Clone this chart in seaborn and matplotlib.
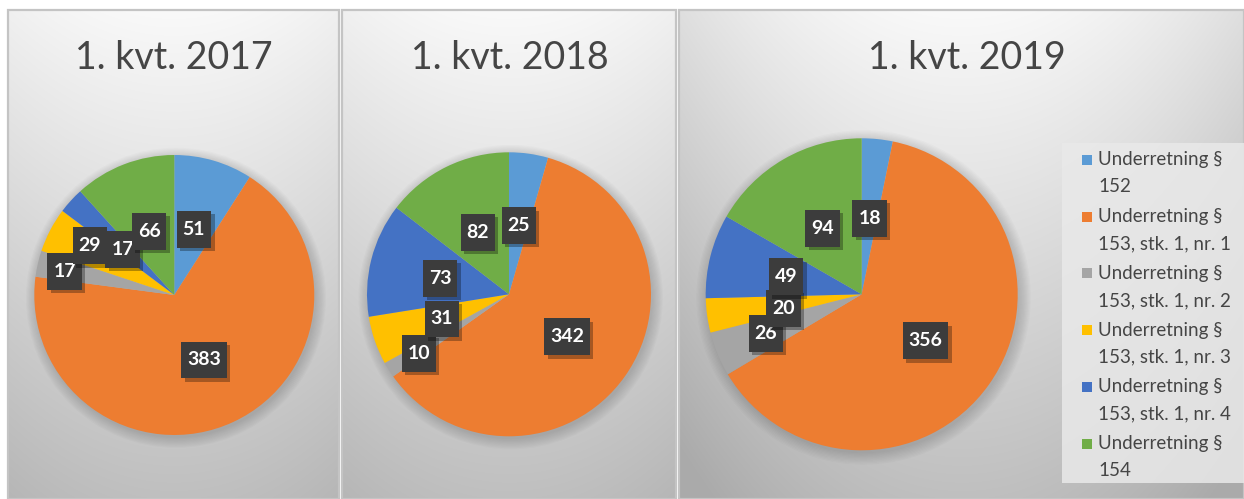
import numpy as np
import matplotlib
matplotlib.use("Agg")
import matplotlib.pyplot as plt
import matplotlib.patheffects as pe
from matplotlib.patches import Rectangle, Circle
import seaborn as sns

# ---------------- data ----------------
categories = [
    "Underretning §\n152",
    "Underretning §\n153, stk. 1, nr. 1",
    "Underretning §\n153, stk. 1, nr. 2",
    "Underretning §\n153, stk. 1, nr. 3",
    "Underretning §\n153, stk. 1, nr. 4",
    "Underretning §\n154",
]
titles = ["1. kvt. 2017", "1. kvt. 2018", "1. kvt. 2019"]
values_2017 = [51, 383, 17, 29, 17, 66]
values_2018 = [25, 342, 10, 31, 73, 82]
values_2019 = [18, 356, 26, 20, 49, 94]
series = [values_2017, values_2018, values_2019]
colors = ["#5B9BD5", "#ED7D31", "#A5A5A5", "#FFC000", "#4472C4", "#70AD47"]

# ---------------- style ----------------
sns.set_theme(style="white")
plt.rcParams["font.family"] = ["Lato", "DejaVu Sans"]
TEXT = "#454545"

W, H, DPI = 1244, 499, 100
fig = plt.figure(figsize=(W / DPI, H / DPI), dpi=DPI)
fig.patch.set_facecolor("white")


def frect(x0, y0, x1, y1):
    return [x0 / W, 1 - y1 / H, (x1 - x0) / W, (y1 - y0) / H]


# layout (pixels, y down); label nudges for crowded labels only
layout = [
    dict(x0=8, x1=339, cx=174.3, cy=295.0, r=140, tx=174.0,
         nudge={2: (-41.5, -9.3), 3: (-22.7, -18.2)}),
    dict(x0=342, x1=676, cx=509.0, cy=294.3, r=142, tx=510.0,
         nudge={2: (-30.0, 19.6)}),
    dict(x0=679, x1=1244, cx=861.7, cy=294.3, r=156, tx=967.0,
         nudge={2: (-24.0, 7.5), 3: (-1.0, 1.8)}),
]

for lay, vals, title in zip(layout, series, titles):
    # ---- panel background with soft gradient ----
    x0, x1 = lay["x0"], lay["x1"]
    y0, y1 = 10, 499
    bg = fig.add_axes(frect(x0, y0, x1, y1))
    nx, ny = int(x1 - x0), int(y1 - y0)
    xx, yy = np.meshgrid(np.arange(nx), np.arange(ny))
    pcx = (x1 - x0) / 2
    v = yy / ny
    u = (xx - pcx) / 300.0
    shade = 249 - 58 * v - 30 * u ** 2
    shade = np.clip(shade, 170, 252) / 255.0
    img = np.dstack([shade, shade, shade])
    bg.imshow(img, aspect="auto", extent=[0, 1, 0, 1], interpolation="bilinear")
    bg.set_xlim(0, 1)
    bg.set_ylim(0, 1)
    bg.axis("off")
    bg.add_patch(Rectangle((0, 0), 1, 1, transform=bg.transAxes, fill=False,
                           ec="#c4c4c4", lw=1.6, clip_on=False))

    # ---- title ----
    fig.text(lay["tx"] / W, 1 - 58 / H, title, ha="center", va="center",
             fontsize=27, color=TEXT)

    # ---- pie ----
    r, cx, cy = lay["r"], lay["cx"], lay["cy"]
    ext = 1.25
    ax = fig.add_axes(frect(cx - r * ext, cy - r * ext, cx + r * ext, cy + r * ext))
    ax.set_xlim(-ext, ext)
    ax.set_ylim(-ext, ext)
    ax.axis("off")
    ax.patch.set_alpha(0)
    for k in range(10):
        ax.add_patch(Circle((0.012, -0.02), 1.0 + 0.008 * k, fc="black",
                            ec="none", alpha=0.016, zorder=0))
    wedges, _ = ax.pie(vals, colors=colors, startangle=90, counterclock=False,
                       radius=1.0, wedgeprops=dict(linewidth=0))
    for w in wedges:
        w.set_zorder(1)

    # ---- data labels ----
    total = float(sum(vals))
    start = 0.0
    for i, val in enumerate(vals):
        span = 360.0 * val / total
        mid = np.deg2rad(start + span / 2)
        start += span
        lx = 0.5 * np.sin(mid)
        ly = 0.5 * np.cos(mid)
        if i in lay["nudge"]:
            dx, dy = lay["nudge"][i]
            lx += dx / r
            ly -= dy / r
        t = ax.text(lx, ly, str(val), ha="center", va="center_baseline", color="white",
                    fontsize=14, fontweight="bold", zorder=4,
                    bbox=dict(boxstyle="square,pad=0.3", fc="#3c3c3c", ec="none",
                              mutation_aspect=1.7))
        t.get_bbox_patch().set_path_effects([
            pe.SimplePatchShadow(offset=(2.5, -2.5), shadow_rgbFace="black", alpha=0.3),
            pe.Normal()])

# ---------------- legend ----------------
fig.patches.append(Rectangle((1062 / W, 1 - 483 / H), (1244 - 1062) / W, (483 - 143) / H,
                             transform=fig.transFigure, fc="#e9e9e9", ec="none",
                             alpha=0.85, zorder=5))
for i, (cat, col) in enumerate(zip(categories, colors)):
    yf = 160 + 56.7 * i
    fig.patches.append(Rectangle((1082 / W, 1 - (yf + 5) / H), 10 / W, 10 / H,
                                 transform=fig.transFigure, fc=col, ec="none", zorder=6))
    lines = cat.split("\n")
    for j, line in enumerate(lines):
        fig.text(1098 / W, 1 - (yf + 27 * j) / H, line, ha="left", va="center",
                 fontsize=13.5, color=TEXT, zorder=7)

fig.savefig("out.png", dpi=DPI, facecolor="white")
